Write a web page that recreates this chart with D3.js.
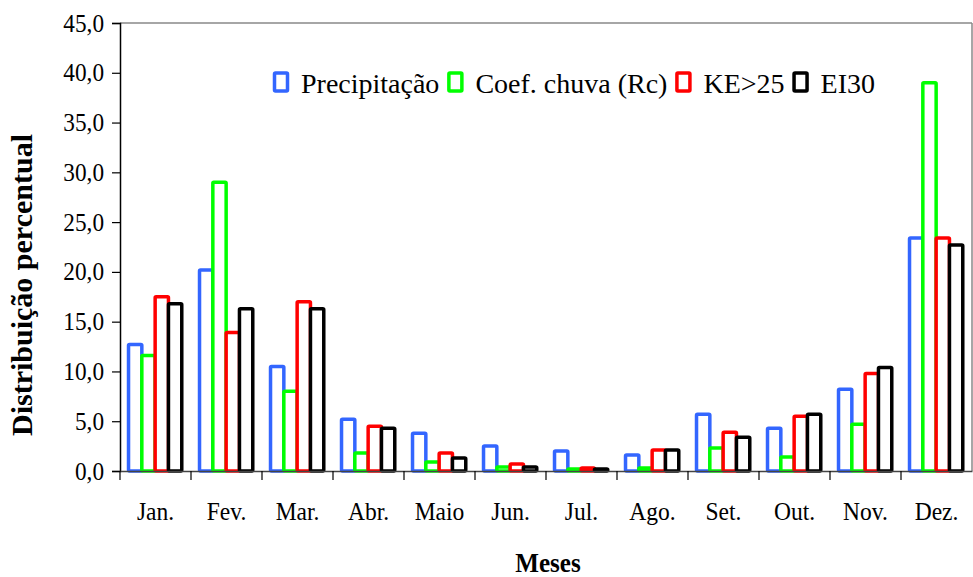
<!DOCTYPE html>
<html>
<head>
<meta charset="utf-8">
<script src="https://cdn.jsdelivr.net/npm/d3@7"></script>
<style>
html,body{margin:0;padding:0;background:#fff;}
svg{display:block;}
text{font-family:"Liberation Serif","Times New Roman",serif;fill:#000;}
</style>
</head>
<body>
<svg id="chart" width="973" height="577"></svg>
<script>
const months = ["Jan.","Fev.","Mar.","Abr.","Maio","Jun.","Jul.","Ago.","Set.","Out.","Nov.","Dez."];
const seriesNames = ["Precipitação","Coef. chuva (Rc)","KE>25","EI30"];
const precipitacao = [12.7,20.2,10.5,5.2,3.8,2.5,2.0,1.6,5.7,4.3,8.2,23.4];
const coefChuva   = [11.6,29.0,8.0,1.8,0.9,0.4,0.2,0.3,2.3,1.4,4.7,39.0];
const ke25        = [17.5,13.9,17.0,4.5,1.8,0.7,0.3,2.1,3.9,5.5,9.8,23.4];
const ei30        = [16.8,16.3,16.3,4.3,1.3,0.4,0.2,2.1,3.4,5.7,10.4,22.7];
const yTicks = [0,5,10,15,20,25,30,35,40,45];
const colors = ["#3366FF","#00FF00","#FF0000","#000000"];

const seriesValues = [precipitacao, coefChuva, ke25, ei30];
const svg = d3.select("#chart");
const pLeft = 120, pRight = 972, pTop = 23, pBottom = 471;

function squeeze(sel, f){
  sel.each(function(){
    const w = this.getComputedTextLength();
    d3.select(this).attr("textLength", w*f).attr("lengthAdjust","spacingAndGlyphs");
  });
}

const x0 = d3.scaleBand().domain(months).range([pLeft, pRight]).padding(0);
const bw = x0.bandwidth();
const x1 = d3.scaleBand().domain(seriesNames).range([bw*0.12, bw*0.87]).padding(0);
const y = d3.scaleLinear().domain([0,45]).range([pBottom, pTop]);

// plot border (top/right gray)
svg.append("line").attr("x1",pLeft).attr("x2",pRight).attr("y1",pTop).attr("y2",pTop)
  .attr("stroke","#888").attr("stroke-width",1.5);
svg.append("line").attr("x1",pRight).attr("x2",pRight).attr("y1",pTop).attr("y2",pBottom)
  .attr("stroke","#888").attr("stroke-width",1.5);

// bars
const sw = 3.5;
months.forEach((m,i)=>{
  const g = svg.append("g").attr("transform",`translate(${x0(m)},0)`);
  seriesNames.forEach((s,j)=>{
    const v = seriesValues[j][i];
    g.append("rect")
      .attr("x", x1(s))
      .attr("y", y(v))
      .attr("width", x1.bandwidth())
      .attr("height", Math.max(0, y(0)-y(v)))
      .attr("rx",1)
      .attr("fill","#fff")
      .attr("stroke", colors[j])
      .attr("stroke-width", sw);
  });
});

// y axis
const yAxis = d3.axisLeft(y).tickValues(yTicks).tickSize(8).tickPadding(8)
  .tickFormat(d=>d3.format(".1f")(d).replace(".",","));
const ya = svg.append("g").attr("transform",`translate(${pLeft},0)`).call(yAxis);
ya.select(".domain").attr("stroke","#000").attr("stroke-width",1.5);
ya.selectAll(".tick line").attr("stroke","#000").attr("stroke-width",1.2);
ya.selectAll("text").attr("font-size","25px").attr("font-family","Liberation Serif").call(squeeze,0.93);

// x axis
const xa = svg.append("g").attr("transform",`translate(0,${pBottom})`)
  .call(d3.axisBottom(x0).tickSize(0).tickPadding(31));
xa.select(".domain").attr("stroke","#444").attr("stroke-width",1.5);
xa.selectAll("text").attr("font-size","25px").attr("font-family","Liberation Serif").call(squeeze,0.94);
// category boundary ticks
const bounds = months.map(m=>x0(m));
svg.append("g").selectAll("line").data(bounds).join("line")
  .attr("x1",d=>d).attr("x2",d=>d).attr("y1",pBottom).attr("y2",pBottom+9)
  .attr("stroke","#000").attr("stroke-width",1.2);

// axis titles
svg.append("text").attr("x",(pLeft+pRight)/2+2).attr("y",572).attr("text-anchor","middle")
  .attr("font-size","27px").attr("font-weight","bold").text("Meses").call(squeeze,0.93);
svg.append("text").attr("transform","translate(32,285) rotate(-90)").attr("text-anchor","middle")
  .attr("font-size","30px").attr("font-weight","bold").text("Distribuição percentual");

// legend
const leg = svg.append("g");
let lx = 273;
const lyBase = 93;
seriesNames.forEach((s,j)=>{
  leg.append("rect").attr("x",lx+1.5).attr("y",73).attr("width",13).attr("height",18)
    .attr("fill","#fff").attr("stroke",colors[j]).attr("stroke-width",3.5).attr("rx",1);
  const t = leg.append("text").attr("x",lx+28).attr("y",lyBase).attr("font-size","28px").text(s);
  const w = t.node().getComputedTextLength();
  lx = lx + 28 + w + 8;
});
</script>
</body>
</html>
